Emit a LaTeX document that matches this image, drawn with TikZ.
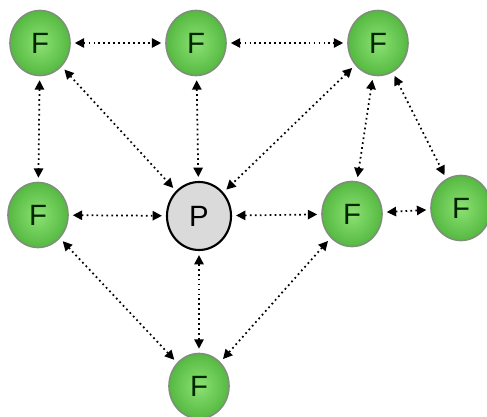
\documentclass[tikz,border=0pt]{standalone}
\usepackage{fontspec}
\setmainfont{Liberation Sans}
\usetikzlibrary{arrows.meta,shapes.geometric}
\definecolor{fin}{RGB}{140,225,115}
\definecolor{fout}{RGB}{85,185,65}
\definecolor{fborder}{RGB}{125,145,120}
\definecolor{pfill}{RGB}{218,218,218}
\begin{document}
\begin{tikzpicture}[x=0.75pt,y=-0.75pt,
  fnode/.style={ellipse,minimum width=60*0.75pt,minimum height=65*0.75pt,inner sep=0pt,draw=fborder,line width=1.2pt,
    inner color=fin,outer color=fout,font=\fontsize{22}{22}\selectfont,text=black!85!green},
  pnode/.style={ellipse,minimum width=64*0.75pt,minimum height=68*0.75pt,inner sep=0pt,draw=black,line width=1.6pt,
    fill=pfill,font=\fontsize{22}{22}\selectfont},
  link/.style={dash pattern=on 1.3pt off 2.4pt,line width=1.3pt,{Triangle[width=7pt,length=7pt]}-{Triangle[width=7pt,length=7pt]},shorten <=3pt,shorten >=3pt}]
\useasboundingbox (0,0) rectangle (487,417);
\fill[white] (0,0) rectangle (487,417);
\node[fnode] (f1) at (40,43) {F};
\node[fnode] (f2) at (196,43) {F};
\node[fnode] (f3) at (378,43) {F};
\node[fnode] (f4) at (38,215) {F};
\node[pnode] (p) at (199,216) {P};
\node[fnode] (f5) at (352,214) {F};
\node[fnode] (f6) at (461,208) {F};
\node[fnode] (f7) at (199,386) {F};
\draw[link] (f1) -- (f2);
\draw[link] (f2) -- (f3);
\draw[link] (f1) -- (f4);
\draw[link] (f1) -- (p);
\draw[link] (f2) -- (p);
\draw[link] (f3) -- (p);
\draw[link] (f3) -- (f5);
\draw[link] (f3) -- (f6);
\draw[link] (f4) -- (p);
\draw[link] (p) -- (f5);
\draw[link] (f5) -- (f6);
\draw[link] (f4) -- (f7);
\draw[link] (p) -- (f7);
\draw[link] (f5) -- (f7);
\end{tikzpicture}
\end{document}
